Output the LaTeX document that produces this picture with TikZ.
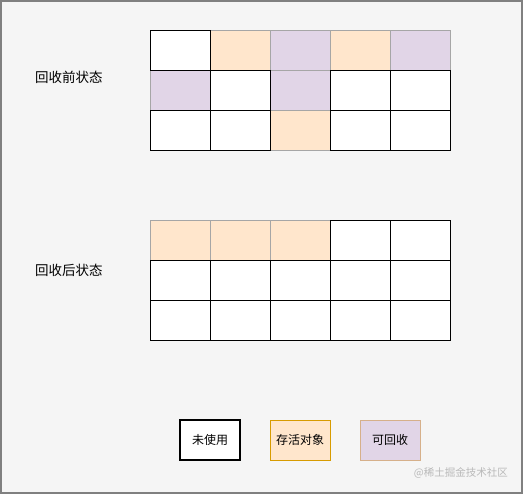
\documentclass[tikz,border=0pt]{standalone}
\usepackage{fontspec}
\newfontfamily\cjk{Noto Sans CJK SC}
\definecolor{bgcol}{HTML}{F5F5F5}
\definecolor{livefill}{HTML}{FFE6CC}
\definecolor{livedraw}{HTML}{D79B00}
\definecolor{freefill}{HTML}{E1D5E7}
\definecolor{freedraw}{HTML}{D6B08A}
\def\wcell{w}
\tikzset{
  cellw/.style={draw=black,fill=white,line width=0.9pt},
  cello/.style={draw=gray!70,fill=livefill,line width=0.5pt},
  cellp/.style={draw=gray!70,fill=freefill,line width=0.5pt},
  lbl/.style={font=\cjk\fontsize{13.5}{15}\selectfont,anchor=west,inner sep=0pt},
  legbox/.style={minimum width=60pt,minimum height=40pt,font=\cjk\fontsize{12}{14}\selectfont}
}
\begin{document}
\begin{tikzpicture}[x=1pt,y=-1pt]
 \useasboundingbox (0,0) rectangle (523,494);
 \fill[bgcol] (0,0) rectangle (523,494);
 \draw[gray,line width=2pt] (1,1) rectangle (522,493);
 % before
 \node[lbl] (before) at (35,77) {回收前状态};
 \foreach \c [count=\i from 0] in {w,o,p,o,p,p,w,p,w,w,w,w,o,w,w}{
   \pgfmathtruncatemacro{\col}{mod(\i,5)}
   \pgfmathtruncatemacro{\row}{div(\i,5)}
   \ifx\c\wcell\else\draw[cell\c] (150+60*\col,30+40*\row) rectangle ++(60,40);\fi
 }
 \foreach \c [count=\i from 0] in {w,o,p,o,p,p,w,p,w,w,w,w,o,w,w}{
   \pgfmathtruncatemacro{\col}{mod(\i,5)}
   \pgfmathtruncatemacro{\row}{div(\i,5)}
   \ifx\c\wcell\draw[cellw] (150+60*\col,30+40*\row) rectangle ++(60,40);\fi
 }
 % after
 \node[lbl] (after) at (35,270) {回收后状态};
 \foreach \c [count=\i from 0] in {o,o,o,w,w,w,w,w,w,w,w,w,w,w,w}{
   \pgfmathtruncatemacro{\col}{mod(\i,5)}
   \pgfmathtruncatemacro{\row}{div(\i,5)}
   \ifx\c\wcell\else\draw[cell\c] (150+60*\col,220+40*\row) rectangle ++(60,40);\fi
 }
 \foreach \c [count=\i from 0] in {o,o,o,w,w,w,w,w,w,w,w,w,w,w,w}{
   \pgfmathtruncatemacro{\col}{mod(\i,5)}
   \pgfmathtruncatemacro{\row}{div(\i,5)}
   \ifx\c\wcell\draw[cellw] (150+60*\col,220+40*\row) rectangle ++(60,40);\fi
 }
 % legend
 \node[legbox,draw=black,fill=white,line width=1.2pt] (unused) at (210,440) {未使用};
 \node[legbox,draw=livedraw,fill=livefill] (live) at (300,440) {存活对象};
 \node[legbox,draw=freedraw,fill=freefill] (free) at (390,440) {可回收};
 \node[font=\cjk\fontsize{10.5}{12}\selectfont,text=gray!55,anchor=east,inner sep=0pt] (mark) at (508,473) {@稀土掘金技术社区};
\end{tikzpicture}
\end{document}
